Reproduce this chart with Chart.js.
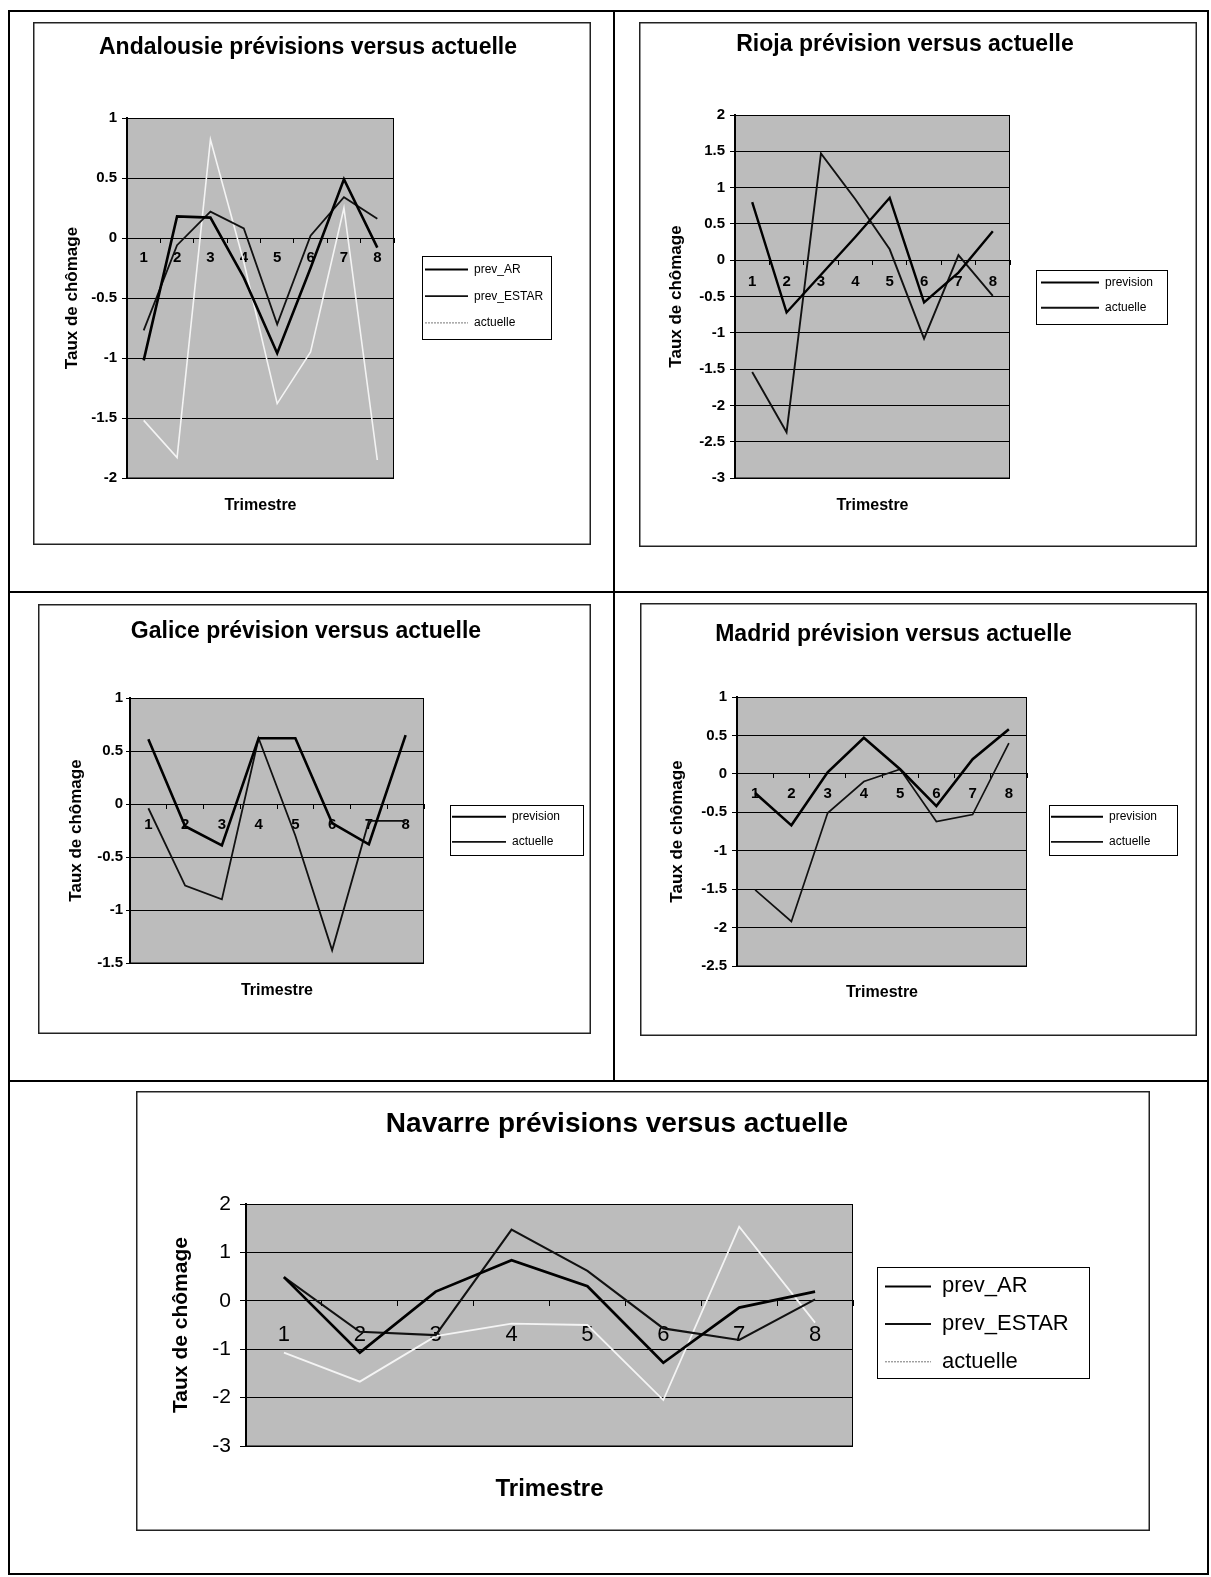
<!DOCTYPE html>
<html lang="fr">
<head>
<meta charset="utf-8">
<title>Prévisions versus actuelle</title>
<script src="https://cdn.jsdelivr.net/npm/chart.js@4.4.1/dist/chart.umd.min.js"></script>
<style>
  html, body { margin: 0; padding: 0; background: #fff; }
  #page { position: relative; width: 1211px; height: 1577px; overflow: hidden; background: #fff; }
  .trait { position: absolute; background: #000; }
  canvas { position: absolute; }
</style>
</head>
<body>
<div id="page">
  <!-- cadre du tableau -->
  <div class="trait" style="left:8px;top:10px;width:1201px;height:2px"></div>
  <div class="trait" style="left:8px;top:1573px;width:1201px;height:2px"></div>
  <div class="trait" style="left:8px;top:10px;width:2px;height:1565px"></div>
  <div class="trait" style="left:1207px;top:10px;width:2px;height:1565px"></div>
  <div class="trait" style="left:613px;top:10px;width:2px;height:1072px"></div>
  <div class="trait" style="left:8px;top:591px;width:1201px;height:2px"></div>
  <div class="trait" style="left:8px;top:1080px;width:1201px;height:2px"></div>

  <canvas id="andalousie" width="558" height="523" style="left:33px;top:22px"></canvas>
  <canvas id="rioja" width="558" height="525" style="left:639px;top:22px"></canvas>
  <canvas id="galice" width="553" height="430" style="left:38px;top:604px"></canvas>
  <canvas id="madrid" width="557" height="433" style="left:640px;top:603px"></canvas>
  <canvas id="navarre" width="1014" height="440" style="left:136px;top:1091px"></canvas>
</div>

<script>
// Trimestres (axe des catégories)
const trimestres = ['1', '2', '3', '4', '5', '6', '7', '8'];

// Andalousie
const andalousiePrevAR = [-1.02, 0.18, 0.17, -0.33, -0.96, -0.25, 0.49, -0.08];
const andalousiePrevESTAR = [-0.77, -0.06, 0.22, 0.08, -0.72, 0.02, 0.34, 0.16];
const andalousieActuelle = [-1.52, -1.83, 0.82, -0.2, -1.38, -0.95, 0.25, -1.85];

// Rioja
const riojaPrevision = [0.80, -0.72, -0.20, 0.32, 0.86, -0.58, -0.17, 0.40];
const riojaActuelle = [-1.54, -2.37, 1.47, 0.84, 0.15, -1.08, 0.07, -0.49];

// Galice
const galicePrevision = [0.61, -0.21, -0.39, 0.62, 0.62, -0.18, -0.38, 0.65];
const galiceActuelle = [-0.04, -0.77, -0.90, 0.62, -0.30, -1.38, -0.16, -0.16];

// Madrid
const madridPrevision = [-0.25, -0.67, 0.02, 0.47, 0.06, -0.42, 0.19, 0.58];
const madridActuelle = [-1.51, -1.92, -0.51, -0.10, 0.06, -0.62, -0.53, 0.40];

// Navarre
const navarrePrevAR = [0.49, -1.07, 0.19, 0.84, 0.30, -1.28, -0.14, 0.19];
const navarrePrevESTAR = [0.49, -0.64, -0.71, 1.47, 0.62, -0.57, -0.81, 0.03];
const navarreActuelle = [-1.07, -1.67, -0.73, -0.47, -0.50, -2.05, 1.53, -0.45];

const POLICE = 'Arial, "Liberation Sans", sans-serif';
const FOND_GRIS = '#bcbcbc';

// Une série de courbe
function serie(label, data, couleur, epaisseur, legendeCouleur, legendeTirets) {
    return {
        label: label,
        data: data,
        borderColor: couleur,
        backgroundColor: couleur,
        borderWidth: epaisseur,
        pointRadius: 0,
        tension: 0,
        fill: false,
        legendeCouleur: legendeCouleur || couleur,
        legendeTirets: legendeTirets || []
    };
}

// Fond gris, cadres, position de la légende
function cadre(g) {
    return {
        id: 'cadre',
        beforeLayout(chart) {
            const lg = chart.legend;
            if (lg && !lg.largeurFixe) {
                const fitOrig = lg.fit;
                lg.fit = function () {
                    fitOrig.call(this);
                    this.width = chart.width - g.droite;
                };
                lg.largeurFixe = true;
            }
        },
        afterLayout(chart) {
            const lg = chart.legend;
            const L = g.legende;
            const pad = L.ecart - L.taille;
            lg.left = L.traitX - pad;
            lg.right = L.box[0] + L.box[2];
            lg.width = lg.right - lg.left;
            lg.top = L.centre1 - L.taille / 2 - pad;
            lg.bottom = chart.height;
            lg.height = lg.bottom - lg.top;
            const tb = chart.titleBlock;
            tb.left += g.titreDecalage;
            tb.right += g.titreDecalage;
        },
        beforeDraw(chart) {
            const ctx = chart.ctx;
            const a = chart.chartArea;
            ctx.save();
            ctx.fillStyle = '#fff';
            ctx.fillRect(0, 0, chart.width, chart.height);
            ctx.fillStyle = FOND_GRIS;
            ctx.fillRect(a.left, a.top, a.right - a.left, a.bottom - a.top);
            ctx.restore();
        },
        beforeDatasetsDraw(chart) {
            const ctx = chart.ctx;
            const a = chart.chartArea;
            ctx.save();
            ctx.strokeStyle = '#000';
            ctx.lineWidth = 1;
            ctx.strokeRect(a.left, a.top + 0.5, a.right - a.left - 0.5, a.bottom - a.top - 0.5);
            ctx.restore();
        },
        afterDraw(chart) {
            const ctx = chart.ctx;
            const b = g.legende.box;
            ctx.save();
            ctx.strokeStyle = '#000';
            ctx.lineWidth = 1;
            ctx.strokeRect(b[0] + 0.5, b[1] + 0.5, b[2], b[3]);
            ctx.strokeStyle = '#222';
            ctx.lineWidth = 1.5;
            ctx.strokeRect(0.75, 0.75, chart.width - 1.5, chart.height - 1.5);
            ctx.restore();
        }
    };
}

function tracer(id, g, datasets) {
    const poids = g.gras ? 'bold' : 'normal';
    return new Chart(document.getElementById(id), {
        type: 'line',
        data: { labels: trimestres, datasets: datasets },
        options: {
            responsive: false,
            animation: false,
            devicePixelRatio: 1,
            layout: { padding: 0 },
            plugins: {
                title: {
                    display: true,
                    text: g.titre,
                    color: '#000',
                    font: { family: POLICE, size: g.titreTaille, weight: 'bold' },
                    padding: { top: g.titreHaut, bottom: g.titreBas }
                },
                legend: {
                    position: 'right',
                    align: 'start',
                    labels: {
                        color: '#000',
                        font: { family: POLICE, size: g.legende.taille },
                        boxWidth: g.legende.trait,
                        boxHeight: 0,
                        padding: g.legende.ecart - g.legende.taille,
                        generateLabels: chart => chart.data.datasets.map((ds, i) => ({
                            text: ds.label,
                            fillStyle: 'rgba(0,0,0,0)',
                            strokeStyle: ds.legendeCouleur,
                            lineWidth: ds.legendeTirets.length ? 1 : Math.min(ds.borderWidth, 2),
                            lineDash: ds.legendeTirets,
                            lineCap: 'butt',
                            hidden: false,
                            datasetIndex: i
                        }))
                    }
                },
                tooltip: { enabled: false }
            },
            scales: {
                x: {
                    type: 'category',
                    position: { y: 0 },
                    offset: true,
                    grid: {
                        display: true,
                        drawOnChartArea: false,
                        drawTicks: true,
                        tickLength: g.xTick,
                        color: '#000',
                        offset: true
                    },
                    border: { display: true, color: '#000', width: 1 },
                    ticks: {
                        color: '#000',
                        autoSkip: false,
                        maxRotation: 0,
                        padding: g.xPad,
                        font: { family: POLICE, size: g.xPolice, weight: poids }
                    }
                },
                xTitre: {
                    type: 'category',
                    position: 'bottom',
                    offset: true,
                    grid: { display: false },
                    border: { display: false },
                    ticks: { display: false },
                    title: {
                        display: true,
                        text: 'Trimestre',
                        color: '#000',
                        font: { family: POLICE, size: g.xTitreTaille, weight: 'bold' },
                        padding: { top: 0, bottom: g.xTitreBas }
                    },
                    afterFit: s => { s.height = g.basHauteur; }
                },
                y: {
                    min: g.yMin,
                    max: g.yMax,
                    ticks: {
                        stepSize: g.yPas,
                        color: '#000',
                        padding: g.yPad,
                        font: { family: POLICE, size: g.yPolice, weight: poids },
                        callback: v => String(v)
                    },
                    grid: {
                        color: '#000',
                        lineWidth: 1,
                        drawTicks: true,
                        tickLength: g.yTick,
                        tickColor: '#000'
                    },
                    border: { display: true, color: '#000', width: 2 },
                    title: {
                        display: true,
                        text: 'Taux de chômage',
                        color: '#000',
                        font: { family: POLICE, size: g.yTitreTaille, weight: 'bold' },
                        padding: { top: g.yTitreHaut, bottom: 0 }
                    },
                    afterFit: s => { s.width = g.gauche; }
                }
            }
        },
        plugins: [cadre(g)]
    });
}

const NOIR = '#000';
const BLANC = '#f4f4f4';
const GRIS_LEGENDE = '#777';

tracer('andalousie', {
    titre: 'Andalousie prévisions versus actuelle', titreTaille: 23, titreHaut: 12.2, titreBas: 56.2, titreDecalage: -4,
    yMin: -2, yMax: 1, yPas: 0.5, gauche: 94, yTick: 5, yPad: 5, yPolice: 15, gras: true,
    yTitreTaille: 17, yTitreHaut: 28.8, droite: 361,
    basHauteur: 67, xTitreTaille: 16, xTitreBas: 29.4, xTick: 4, xPad: 7, xPolice: 15,
    legende: { taille: 12, box: [389, 234, 129, 83], centre1: 247.5, ecart: 26.7, traitX: 392, trait: 43 }
}, [
    serie('prev_AR', andalousiePrevAR, NOIR, 2.6),
    serie('prev_ESTAR', andalousiePrevESTAR, '#111', 1.8),
    serie('actuelle', andalousieActuelle, BLANC, 1.6, GRIS_LEGENDE, [1, 2])
]);

tracer('rioja', {
    titre: 'Rioja prévision versus actuelle', titreTaille: 23, titreHaut: 9.2, titreBas: 56.2, titreDecalage: -13,
    yMin: -3, yMax: 2, yPas: 0.5, gauche: 96, yTick: 5, yPad: 5, yPolice: 15, gras: true,
    yTitreTaille: 17, yTitreHaut: 26.8, droite: 371,
    basHauteur: 69, xTitreTaille: 16, xTitreBas: 31.4, xTick: 4, xPad: 8.6, xPolice: 15,
    legende: { taille: 12, box: [397, 248, 131, 54], centre1: 260.6, ecart: 25.2, traitX: 402, trait: 58 }
}, [
    serie('prevision', riojaPrevision, NOIR, 2.4),
    serie('actuelle', riojaActuelle, '#111', 1.9)
]);

tracer('galice', {
    titre: 'Galice prévision versus actuelle', titreTaille: 23, titreHaut: 13.8, titreBas: 52.6, titreDecalage: -8.5,
    yMin: -1.5, yMax: 1, yPas: 0.5, gauche: 92, yTick: 4, yPad: 3, yPolice: 15, gras: true,
    yTitreTaille: 17, yTitreHaut: 28.2, droite: 386,
    basHauteur: 71, xTitreTaille: 16, xTitreBas: 33.7, xTick: 4, xPad: 7.5, xPolice: 15,
    legende: { taille: 12, box: [412, 201, 133, 50], centre1: 212.7, ecart: 25.2, traitX: 414, trait: 54 }
}, [
    serie('prevision', galicePrevision, NOIR, 2.6),
    serie('actuelle', galiceActuelle, '#111', 1.8)
]);

tracer('madrid', {
    titre: 'Madrid prévision versus actuelle', titreTaille: 23, titreHaut: 17.9, titreBas: 48.5, titreDecalage: -25,
    yMin: -2.5, yMax: 1, yPas: 0.5, gauche: 97, yTick: 5, yPad: 5, yPolice: 15, gras: true,
    yTitreTaille: 17, yTitreHaut: 26.8, droite: 387,
    basHauteur: 70, xTitreTaille: 16, xTitreBas: 33.7, xTick: 4, xPad: 6.6, xPolice: 15,
    legende: { taille: 12, box: [409, 202, 128, 50], centre1: 213.7, ecart: 25.2, traitX: 411, trait: 52 }
}, [
    serie('prevision', madridPrevision, NOIR, 2.6),
    serie('actuelle', madridActuelle, '#111', 1.7)
]);

tracer('navarre', {
    titre: 'Navarre prévisions versus actuelle', titreTaille: 28, titreHaut: 16.7, titreBas: 62.7, titreDecalage: -26,
    yMin: -3, yMax: 2, yPas: 1, gauche: 110, yTick: 6, yPad: 9, yPolice: 21, gras: false,
    yTitreTaille: 21, yTitreHaut: 32.4, droite: 717,
    basHauteur: 85, xTitreTaille: 24, xTitreBas: 27, xTick: 5, xPad: 15.8, xPolice: 22,
    legende: { taille: 22, box: [741, 176, 212, 111], centre1: 195.4, ecart: 37.7, traitX: 749, trait: 46 }
}, [
    serie('prev_AR', navarrePrevAR, NOIR, 2.7),
    serie('prev_ESTAR', navarrePrevESTAR, '#111', 2.1),
    serie('actuelle', navarreActuelle, BLANC, 1.8, GRIS_LEGENDE, [1, 2])
]);
</script>
</body>
</html>
